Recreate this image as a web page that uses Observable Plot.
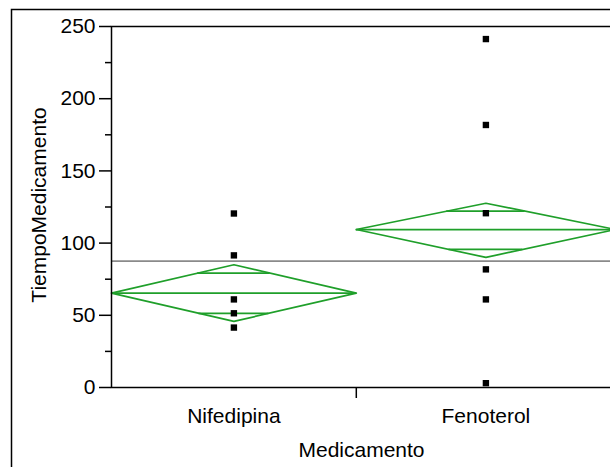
<!DOCTYPE html>
<html><head><meta charset="utf-8">
<script src="https://cdn.jsdelivr.net/npm/d3@7"></script>
<script src="https://cdn.jsdelivr.net/npm/@observablehq/plot@0.6"></script>
<style>
html,body{margin:0;padding:0;background:#fff;overflow:hidden;width:610px;height:467px}
#chart{position:absolute;left:0;top:0;width:620px;height:467px}
#chart svg{max-width:none !important;width:620px;height:467px}
</style></head><body><div id="chart"></div>
<script>
const categorias = ["Nifedipina", "Fenoterol"];
const anchoRelativo = [17, 18];
const valoresNifedipina = [120.5, 91.5, 61, 51.4, 41.5];
const valoresFenoterol = [241.3, 181.8, 120.7, 81.8, 61, 3];
const medias = [65.4, 109.4];
const ic95Inferior = [45.8, 90.1];
const ic95Superior = [85, 127.6];
const marcaSuperpInferior = [51.4, 95.6];
const marcaSuperpSuperior = [79.2, 122.1];
const mediaGeneral = 87.5;
const yTicks = [0, 50, 100, 150, 200, 250];
const yTicksMenores = [25, 75, 125, 175, 225];
const tituloY = "TiempoMedicamento";
const tituloX = "Medicamento";

const verde = "#1f9f2a";
const inicio = []; let total = 0;
for (const w of anchoRelativo) { inicio.push(total); total += w; }
const grupos = categorias.map((c, i) => ({
  cat: c, x0: inicio[i], x1: inicio[i] + anchoRelativo[i], xc: inicio[i] + anchoRelativo[i] / 2,
  media: medias[i], lo: ic95Inferior[i], hi: ic95Superior[i]
}));
const diamante = grupos.flatMap(g => [
  {cat: g.cat, x: g.x0, y: g.media},
  {cat: g.cat, x: g.xc, y: g.hi},
  {cat: g.cat, x: g.x1, y: g.media},
  {cat: g.cat, x: g.xc, y: g.lo},
  {cat: g.cat, x: g.x0, y: g.media}
]);
const marcas = grupos.flatMap((g, i) => {
  const hw = (g.x1 - g.x0) / 2;
  const vs = [marcaSuperpSuperior[i], marcaSuperpInferior[i]];
  return vs.map(v => {
    const ref = v >= g.media ? g.hi - g.media : g.media - g.lo;
    const h = hw * (1 - Math.abs(v - g.media) / ref);
    return {v, a: g.xc - h, b: g.xc + h};
  });
});
const puntos = [
  ...valoresNifedipina.map(v => ({x: grupos[0].xc, v})),
  ...valoresFenoterol.map(v => ({x: grupos[1].xc, v}))
];

const chart = Plot.plot({
  width: 620, height: 467,
  marginLeft: 111, marginRight: 5, marginTop: 26, marginBottom: 80,
  x: {domain: [0, total], axis: null},
  y: {domain: [0, 250], axis: null},
  style: {fontFamily: "'Liberation Sans', Arial, sans-serif", fontSize: "21px", color: "#000", background: "#fff", maxWidth: "none"},
  marks: [
    Plot.frame({insetLeft: -100, insetTop: -17, insetRight: -50, insetBottom: -200, stroke: "#000", strokeWidth: 1.5}),
    Plot.ruleY([mediaGeneral], {stroke: "#8a8a8a", strokeWidth: 1.6}),
    Plot.line(diamante, {x: "x", y: "y", z: "cat", stroke: verde, strokeWidth: 1.7}),
    Plot.ruleY(grupos, {y: "media", x1: "x0", x2: "x1", stroke: verde, strokeWidth: 1.7}),
    Plot.ruleY(marcas, {y: "v", x1: "a", x2: "b", stroke: verde, strokeWidth: 1.7}),
    Plot.dot(puntos, {x: "x", y: "v", symbol: "square", r: 3.6, fill: "#000", stroke: null}),
    Plot.frame({stroke: "#000", strokeWidth: 1.5}),
    Plot.axisY({ticks: yTicks, tickSize: 12, tickPadding: 4, fontSize: 21, label: null, strokeWidth: 1.5}),
    Plot.axisY({ticks: yTicksMenores, tickSize: 6, tickFormat: () => "", label: null, strokeWidth: 1.5}),
    Plot.axisX({ticks: [anchoRelativo[0]], tickSize: 11, tickFormat: () => "", label: null, strokeWidth: 1.5}),
    Plot.text(grupos, {x: "xc", text: "cat", frameAnchor: "bottom", lineAnchor: "top", dy: 21, fontSize: 21}),
    Plot.text([tituloX], {text: d => d, frameAnchor: "bottom", lineAnchor: "top", dx: -2, dy: 55, fontSize: 21}),
    Plot.text([tituloY], {text: d => d, frameAnchor: "left", textAnchor: "middle", rotate: -90, dx: -72, dy: -2, fontSize: 21})
  ]
});
document.getElementById("chart").appendChild(chart);
</script></body></html>
